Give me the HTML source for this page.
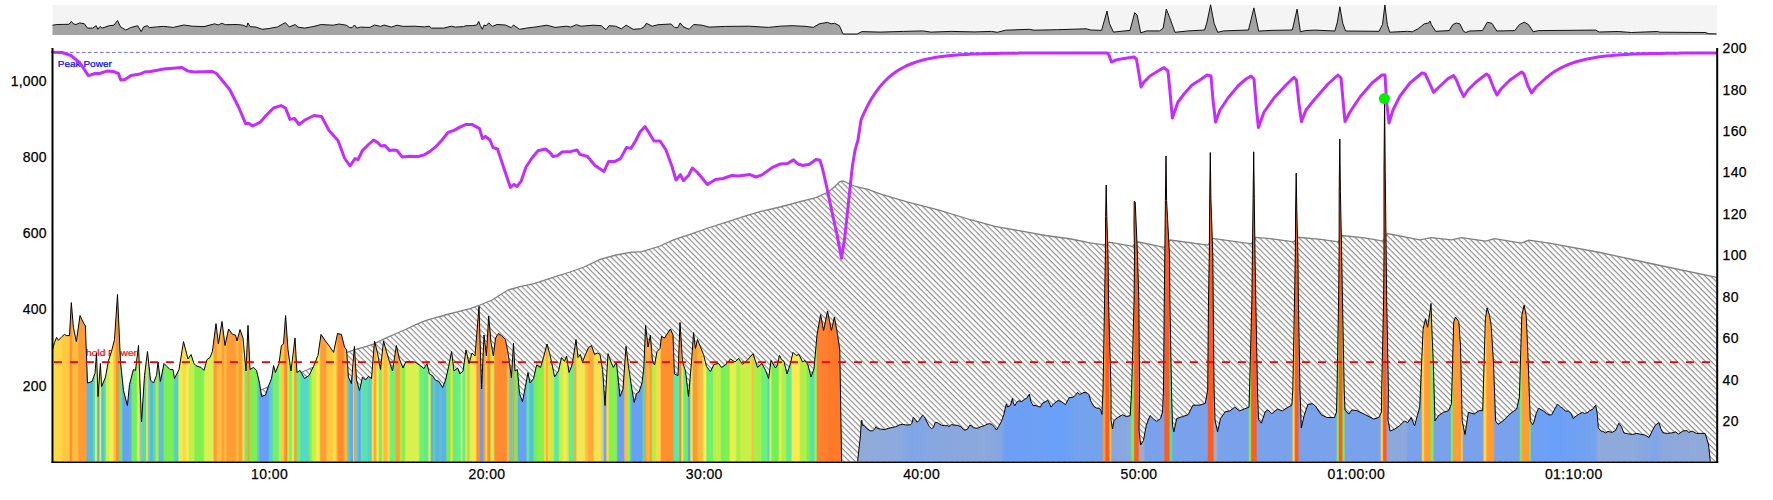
<!DOCTYPE html>
<html><head><meta charset="utf-8"><style>
html,body{margin:0;padding:0;background:#fff;}
body{width:1773px;height:500px;overflow:hidden;}
svg{display:block;}
text{font-family:"Liberation Sans", Arial, sans-serif;}
</style></head><body>
<svg width="1773" height="500" viewBox="0 0 1773 500">
<defs>
<pattern id="hat" patternUnits="userSpaceOnUse" width="4" height="4" patternTransform="rotate(-45)">
<rect x="0" y="0" width="4" height="4" fill="#fff"/>
<line x1="2.33" y1="-1" x2="2.33" y2="5" stroke="#7a7a7a" stroke-width="1"/>
</pattern>
<linearGradient id="pg" gradientUnits="userSpaceOnUse" x1="52.0" y1="0" x2="1717.0" y2="0"><stop offset="0.00000" stop-color="#fff060"/><stop offset="0.00084" stop-color="#fff060"/><stop offset="0.00168" stop-color="#ffd848"/><stop offset="0.00553" stop-color="#ffd848"/><stop offset="0.00649" stop-color="#ffc840"/><stop offset="0.01027" stop-color="#ffc840"/><stop offset="0.01109" stop-color="#ff8a30"/><stop offset="0.01155" stop-color="#ff8a30"/><stop offset="0.01237" stop-color="#ffbc40"/><stop offset="0.01526" stop-color="#ffbc40"/><stop offset="0.01622" stop-color="#ff9c36"/><stop offset="0.02030" stop-color="#ff9c36"/><stop offset="0.02126" stop-color="#58b8e0"/><stop offset="0.02414" stop-color="#58b8e0"/><stop offset="0.02497" stop-color="#52dca8"/><stop offset="0.02542" stop-color="#52dca8"/><stop offset="0.02616" stop-color="#e0f050"/><stop offset="0.02669" stop-color="#e0f050"/><stop offset="0.02750" stop-color="#60a8f0"/><stop offset="0.02805" stop-color="#60a8f0"/><stop offset="0.02881" stop-color="#e0f050"/><stop offset="0.02927" stop-color="#e0f050"/><stop offset="0.02995" stop-color="#58b8e0"/><stop offset="0.03041" stop-color="#58b8e0"/><stop offset="0.03122" stop-color="#52dca8"/><stop offset="0.03184" stop-color="#52dca8"/><stop offset="0.03279" stop-color="#d0f050"/><stop offset="0.03411" stop-color="#d0f050"/><stop offset="0.03508" stop-color="#f4ee50"/><stop offset="0.03646" stop-color="#f4ee50"/><stop offset="0.03739" stop-color="#ffbc40"/><stop offset="0.03799" stop-color="#ffbc40"/><stop offset="0.03892" stop-color="#ff8a30"/><stop offset="0.03970" stop-color="#ff8a30"/><stop offset="0.04066" stop-color="#60e890"/><stop offset="0.04180" stop-color="#60e890"/><stop offset="0.04276" stop-color="#6a9ef6"/><stop offset="0.04565" stop-color="#6a9ef6"/><stop offset="0.04659" stop-color="#60b0e0"/><stop offset="0.04722" stop-color="#60b0e0"/><stop offset="0.04817" stop-color="#70f060"/><stop offset="0.05063" stop-color="#70f060"/><stop offset="0.05158" stop-color="#e0f050"/><stop offset="0.05220" stop-color="#e0f050"/><stop offset="0.05296" stop-color="#b0b8c0"/><stop offset="0.05335" stop-color="#b0b8c0"/><stop offset="0.05411" stop-color="#52dca8"/><stop offset="0.05604" stop-color="#52dca8"/><stop offset="0.05686" stop-color="#ffd944"/><stop offset="0.05732" stop-color="#ffd944"/><stop offset="0.05811" stop-color="#55d0c8"/><stop offset="0.05871" stop-color="#55d0c8"/><stop offset="0.05957" stop-color="#60b0e8"/><stop offset="0.06013" stop-color="#60b0e8"/><stop offset="0.06101" stop-color="#52dca8"/><stop offset="0.06163" stop-color="#52dca8"/><stop offset="0.06258" stop-color="#b0e850"/><stop offset="0.06354" stop-color="#b0e850"/><stop offset="0.06450" stop-color="#5cc0d8"/><stop offset="0.06661" stop-color="#5cc0d8"/><stop offset="0.06757" stop-color="#7af055"/><stop offset="0.07273" stop-color="#7af055"/><stop offset="0.07369" stop-color="#55d0c8"/><stop offset="0.07544" stop-color="#55d0c8"/><stop offset="0.07640" stop-color="#e8f050"/><stop offset="0.07778" stop-color="#e8f050"/><stop offset="0.07874" stop-color="#ffd944"/><stop offset="0.08006" stop-color="#ffd944"/><stop offset="0.08101" stop-color="#f0f050"/><stop offset="0.08163" stop-color="#f0f050"/><stop offset="0.08258" stop-color="#c6ee4a"/><stop offset="0.08505" stop-color="#c6ee4a"/><stop offset="0.08601" stop-color="#80f050"/><stop offset="0.09081" stop-color="#80f050"/><stop offset="0.09177" stop-color="#d8f050"/><stop offset="0.09658" stop-color="#d8f050"/><stop offset="0.09754" stop-color="#ff9c36"/><stop offset="0.09850" stop-color="#ff9c36"/><stop offset="0.09946" stop-color="#ffbc40"/><stop offset="0.10162" stop-color="#ffbc40"/><stop offset="0.10244" stop-color="#ff9c36"/><stop offset="0.10290" stop-color="#ff9c36"/><stop offset="0.10369" stop-color="#ffbc40"/><stop offset="0.10429" stop-color="#ffbc40"/><stop offset="0.10523" stop-color="#ff9c36"/><stop offset="0.11003" stop-color="#ff9c36"/><stop offset="0.11098" stop-color="#ffbc40"/><stop offset="0.11160" stop-color="#ffbc40"/><stop offset="0.11255" stop-color="#ff9c36"/><stop offset="0.11375" stop-color="#ff9c36"/><stop offset="0.11463" stop-color="#ffd944"/><stop offset="0.11516" stop-color="#ffd944"/><stop offset="0.11604" stop-color="#80e870"/><stop offset="0.11682" stop-color="#80e870"/><stop offset="0.11769" stop-color="#ff9c36"/><stop offset="0.11822" stop-color="#ff9c36"/><stop offset="0.11910" stop-color="#80f050"/><stop offset="0.12276" stop-color="#80f050"/><stop offset="0.12359" stop-color="#5cc8d0"/><stop offset="0.12404" stop-color="#5cc8d0"/><stop offset="0.12486" stop-color="#6a9ef6"/><stop offset="0.12985" stop-color="#6a9ef6"/><stop offset="0.13081" stop-color="#55d0d0"/><stop offset="0.13219" stop-color="#55d0d0"/><stop offset="0.13307" stop-color="#80f050"/><stop offset="0.13360" stop-color="#80f050"/><stop offset="0.13447" stop-color="#68f080"/><stop offset="0.13586" stop-color="#68f080"/><stop offset="0.13668" stop-color="#c6ee4a"/><stop offset="0.13714" stop-color="#c6ee4a"/><stop offset="0.13796" stop-color="#ffc840"/><stop offset="0.13892" stop-color="#ffc840"/><stop offset="0.13988" stop-color="#ff8a30"/><stop offset="0.14084" stop-color="#ff8a30"/><stop offset="0.14166" stop-color="#c6ee4a"/><stop offset="0.14212" stop-color="#c6ee4a"/><stop offset="0.14293" stop-color="#70f070"/><stop offset="0.14356" stop-color="#70f070"/><stop offset="0.14442" stop-color="#e0f050"/><stop offset="0.14495" stop-color="#e0f050"/><stop offset="0.14581" stop-color="#ff9c36"/><stop offset="0.14644" stop-color="#ff9c36"/><stop offset="0.14739" stop-color="#68f080"/><stop offset="0.14889" stop-color="#68f080"/><stop offset="0.14985" stop-color="#55d8c8"/><stop offset="0.15393" stop-color="#55d8c8"/><stop offset="0.15486" stop-color="#80f050"/><stop offset="0.15547" stop-color="#80f050"/><stop offset="0.15640" stop-color="#c8f048"/><stop offset="0.15808" stop-color="#c8f048"/><stop offset="0.15904" stop-color="#f0f050"/><stop offset="0.16048" stop-color="#f0f050"/><stop offset="0.16144" stop-color="#ff9c36"/><stop offset="0.16426" stop-color="#ff9c36"/><stop offset="0.16523" stop-color="#ffc840"/><stop offset="0.16817" stop-color="#ffc840"/><stop offset="0.16913" stop-color="#ffe048"/><stop offset="0.17009" stop-color="#ffe048"/><stop offset="0.17080" stop-color="#ffbc40"/><stop offset="0.17112" stop-color="#ffbc40"/><stop offset="0.17183" stop-color="#ff8a30"/><stop offset="0.17489" stop-color="#ff8a30"/><stop offset="0.17586" stop-color="#ffb840"/><stop offset="0.17682" stop-color="#ffb840"/><stop offset="0.17771" stop-color="#55d0c0"/><stop offset="0.17826" stop-color="#55d0c0"/><stop offset="0.17902" stop-color="#60b0e0"/><stop offset="0.17948" stop-color="#60b0e0"/><stop offset="0.18011" stop-color="#60a8f0"/><stop offset="0.18049" stop-color="#60a8f0"/><stop offset="0.18094" stop-color="#c6ee4a"/><stop offset="0.18116" stop-color="#c6ee4a"/><stop offset="0.18150" stop-color="#ff9c36"/><stop offset="0.18174" stop-color="#ff9c36"/><stop offset="0.18240" stop-color="#55d8c0"/><stop offset="0.18318" stop-color="#55d8c0"/><stop offset="0.18414" stop-color="#66a4f8"/><stop offset="0.18511" stop-color="#66a4f8"/><stop offset="0.18593" stop-color="#60e8a0"/><stop offset="0.18638" stop-color="#60e8a0"/><stop offset="0.18721" stop-color="#58e0b0"/><stop offset="0.18931" stop-color="#58e0b0"/><stop offset="0.19027" stop-color="#55d0c8"/><stop offset="0.19165" stop-color="#55d0c8"/><stop offset="0.19247" stop-color="#ffd944"/><stop offset="0.19293" stop-color="#ffd944"/><stop offset="0.19372" stop-color="#ffa838"/><stop offset="0.19432" stop-color="#ffa838"/><stop offset="0.19524" stop-color="#f8e850"/><stop offset="0.19587" stop-color="#f8e850"/><stop offset="0.19682" stop-color="#70f070"/><stop offset="0.19778" stop-color="#70f070"/><stop offset="0.19849" stop-color="#ffd944"/><stop offset="0.19880" stop-color="#ffd944"/><stop offset="0.19952" stop-color="#ffb840"/><stop offset="0.20084" stop-color="#ffb840"/><stop offset="0.20179" stop-color="#ffe048"/><stop offset="0.20241" stop-color="#ffe048"/><stop offset="0.20336" stop-color="#70f070"/><stop offset="0.20583" stop-color="#70f070"/><stop offset="0.20679" stop-color="#ffa035"/><stop offset="0.20853" stop-color="#ffa035"/><stop offset="0.20948" stop-color="#a8f048"/><stop offset="0.21010" stop-color="#a8f048"/><stop offset="0.21102" stop-color="#80f050"/><stop offset="0.21162" stop-color="#80f050"/><stop offset="0.21255" stop-color="#d8f050"/><stop offset="0.22006" stop-color="#d8f050"/><stop offset="0.22102" stop-color="#70f070"/><stop offset="0.22294" stop-color="#70f070"/><stop offset="0.22390" stop-color="#60ea90"/><stop offset="0.22547" stop-color="#60ea90"/><stop offset="0.22641" stop-color="#e0f050"/><stop offset="0.22704" stop-color="#e0f050"/><stop offset="0.22796" stop-color="#60b0e0"/><stop offset="0.22856" stop-color="#60b0e0"/><stop offset="0.22932" stop-color="#52dca8"/><stop offset="0.22972" stop-color="#52dca8"/><stop offset="0.23051" stop-color="#60b0e0"/><stop offset="0.23183" stop-color="#60b0e0"/><stop offset="0.23279" stop-color="#58c0d8"/><stop offset="0.23375" stop-color="#58c0d8"/><stop offset="0.23471" stop-color="#60b0e8"/><stop offset="0.23628" stop-color="#60b0e8"/><stop offset="0.23724" stop-color="#70f058"/><stop offset="0.23892" stop-color="#70f058"/><stop offset="0.23976" stop-color="#ffd944"/><stop offset="0.24024" stop-color="#ffd944"/><stop offset="0.24108" stop-color="#68f068"/><stop offset="0.24222" stop-color="#68f068"/><stop offset="0.24318" stop-color="#60f090"/><stop offset="0.24511" stop-color="#60f090"/><stop offset="0.24582" stop-color="#e0f050"/><stop offset="0.24613" stop-color="#e0f050"/><stop offset="0.24685" stop-color="#60f090"/><stop offset="0.24781" stop-color="#60f090"/><stop offset="0.24858" stop-color="#ffd944"/><stop offset="0.24896" stop-color="#ffd944"/><stop offset="0.24973" stop-color="#90f050"/><stop offset="0.25051" stop-color="#90f050"/><stop offset="0.25147" stop-color="#f8e850"/><stop offset="0.25435" stop-color="#f8e850"/><stop offset="0.25532" stop-color="#ff9035"/><stop offset="0.25664" stop-color="#ff9035"/><stop offset="0.25760" stop-color="#6a9cf0"/><stop offset="0.25856" stop-color="#6a9cf0"/><stop offset="0.25938" stop-color="#ff9c36"/><stop offset="0.25984" stop-color="#ff9c36"/><stop offset="0.26052" stop-color="#ffd944"/><stop offset="0.26098" stop-color="#ffd944"/><stop offset="0.26180" stop-color="#ff8a30"/><stop offset="0.26276" stop-color="#ff8a30"/><stop offset="0.26372" stop-color="#d8e850"/><stop offset="0.26511" stop-color="#d8e850"/><stop offset="0.26607" stop-color="#ff8a30"/><stop offset="0.27279" stop-color="#ff8a30"/><stop offset="0.27362" stop-color="#ffbc40"/><stop offset="0.27407" stop-color="#ffbc40"/><stop offset="0.27489" stop-color="#60d0c0"/><stop offset="0.27622" stop-color="#60d0c0"/><stop offset="0.27698" stop-color="#ff9c36"/><stop offset="0.27737" stop-color="#ff9c36"/><stop offset="0.27814" stop-color="#70f060"/><stop offset="0.27934" stop-color="#70f060"/><stop offset="0.28030" stop-color="#68a0f8"/><stop offset="0.28450" stop-color="#68a0f8"/><stop offset="0.28545" stop-color="#60e8a0"/><stop offset="0.28608" stop-color="#60e8a0"/><stop offset="0.28703" stop-color="#58c0d8"/><stop offset="0.28877" stop-color="#58c0d8"/><stop offset="0.28973" stop-color="#70f060"/><stop offset="0.29087" stop-color="#70f060"/><stop offset="0.29183" stop-color="#88f048"/><stop offset="0.29514" stop-color="#88f048"/><stop offset="0.29590" stop-color="#ffd944"/><stop offset="0.29629" stop-color="#ffd944"/><stop offset="0.29697" stop-color="#ffb038"/><stop offset="0.29750" stop-color="#ffb038"/><stop offset="0.29824" stop-color="#ffd944"/><stop offset="0.29870" stop-color="#ffd944"/><stop offset="0.29952" stop-color="#c0f048"/><stop offset="0.30108" stop-color="#c0f048"/><stop offset="0.30204" stop-color="#58e8a8"/><stop offset="0.30396" stop-color="#58e8a8"/><stop offset="0.30492" stop-color="#c8f048"/><stop offset="0.30643" stop-color="#c8f048"/><stop offset="0.30739" stop-color="#e8f050"/><stop offset="0.30859" stop-color="#e8f050"/><stop offset="0.30941" stop-color="#ffd944"/><stop offset="0.30987" stop-color="#ffd944"/><stop offset="0.31069" stop-color="#60ec90"/><stop offset="0.31321" stop-color="#60ec90"/><stop offset="0.31404" stop-color="#ffa838"/><stop offset="0.31449" stop-color="#ffa838"/><stop offset="0.31532" stop-color="#f0e850"/><stop offset="0.31970" stop-color="#f0e850"/><stop offset="0.32066" stop-color="#ffbc40"/><stop offset="0.32162" stop-color="#ffbc40"/><stop offset="0.32258" stop-color="#ffa838"/><stop offset="0.32474" stop-color="#ffa838"/><stop offset="0.32571" stop-color="#f8e050"/><stop offset="0.32931" stop-color="#f8e050"/><stop offset="0.33026" stop-color="#c0d890"/><stop offset="0.33088" stop-color="#c0d890"/><stop offset="0.33182" stop-color="#80a0e8"/><stop offset="0.33244" stop-color="#80a0e8"/><stop offset="0.33336" stop-color="#ffd944"/><stop offset="0.33396" stop-color="#ffd944"/><stop offset="0.33489" stop-color="#88f050"/><stop offset="0.33892" stop-color="#88f050"/><stop offset="0.33988" stop-color="#68a0f8"/><stop offset="0.34318" stop-color="#68a0f8"/><stop offset="0.34414" stop-color="#ffbc40"/><stop offset="0.34511" stop-color="#ffbc40"/><stop offset="0.34605" stop-color="#a0f050"/><stop offset="0.34668" stop-color="#a0f050"/><stop offset="0.34733" stop-color="#52dca8"/><stop offset="0.34757" stop-color="#52dca8"/><stop offset="0.34823" stop-color="#68a0f8"/><stop offset="0.35417" stop-color="#68a0f8"/><stop offset="0.35505" stop-color="#52dca8"/><stop offset="0.35558" stop-color="#52dca8"/><stop offset="0.35632" stop-color="#ff9c36"/><stop offset="0.35677" stop-color="#ff9c36"/><stop offset="0.35760" stop-color="#ffb840"/><stop offset="0.35856" stop-color="#ffb840"/><stop offset="0.35940" stop-color="#ff9c36"/><stop offset="0.35988" stop-color="#ff9c36"/><stop offset="0.36072" stop-color="#b0f048"/><stop offset="0.36240" stop-color="#b0f048"/><stop offset="0.36336" stop-color="#ffd848"/><stop offset="0.36511" stop-color="#ffd848"/><stop offset="0.36607" stop-color="#ff9030"/><stop offset="0.37279" stop-color="#ff9030"/><stop offset="0.37375" stop-color="#58e8a8"/><stop offset="0.37628" stop-color="#58e8a8"/><stop offset="0.37710" stop-color="#ff8030"/><stop offset="0.37756" stop-color="#ff8030"/><stop offset="0.37824" stop-color="#e0f050"/><stop offset="0.37870" stop-color="#e0f050"/><stop offset="0.37951" stop-color="#60ec90"/><stop offset="0.38013" stop-color="#60ec90"/><stop offset="0.38100" stop-color="#70f050"/><stop offset="0.38153" stop-color="#70f050"/><stop offset="0.38234" stop-color="#68a0f0"/><stop offset="0.38289" stop-color="#68a0f0"/><stop offset="0.38375" stop-color="#e0f050"/><stop offset="0.38435" stop-color="#e0f050"/><stop offset="0.38529" stop-color="#ff9830"/><stop offset="0.38703" stop-color="#ff9830"/><stop offset="0.38799" stop-color="#ffb840"/><stop offset="0.39051" stop-color="#ffb840"/><stop offset="0.39147" stop-color="#fff050"/><stop offset="0.39243" stop-color="#fff050"/><stop offset="0.39339" stop-color="#70f070"/><stop offset="0.39664" stop-color="#70f070"/><stop offset="0.39760" stop-color="#c0f048"/><stop offset="0.40126" stop-color="#c0f048"/><stop offset="0.40222" stop-color="#70f060"/><stop offset="0.40318" stop-color="#70f060"/><stop offset="0.40414" stop-color="#80f050"/><stop offset="0.40655" stop-color="#80f050"/><stop offset="0.40751" stop-color="#e8f050"/><stop offset="0.41039" stop-color="#e8f050"/><stop offset="0.41135" stop-color="#a8f048"/><stop offset="0.41285" stop-color="#a8f048"/><stop offset="0.41381" stop-color="#c8f048"/><stop offset="0.41976" stop-color="#c8f048"/><stop offset="0.42060" stop-color="#ffbc40"/><stop offset="0.42108" stop-color="#ffbc40"/><stop offset="0.42192" stop-color="#a8f048"/><stop offset="0.42547" stop-color="#a8f048"/><stop offset="0.42643" stop-color="#68f080"/><stop offset="0.42949" stop-color="#68f080"/><stop offset="0.43022" stop-color="#55d0c8"/><stop offset="0.43056" stop-color="#55d0c8"/><stop offset="0.43117" stop-color="#e0f050"/><stop offset="0.43165" stop-color="#e0f050"/><stop offset="0.43249" stop-color="#70f058"/><stop offset="0.43604" stop-color="#70f058"/><stop offset="0.43700" stop-color="#e0f050"/><stop offset="0.43766" stop-color="#e0f050"/><stop offset="0.43862" stop-color="#b0f048"/><stop offset="0.44048" stop-color="#b0f048"/><stop offset="0.44144" stop-color="#60ec90"/><stop offset="0.44372" stop-color="#60ec90"/><stop offset="0.44468" stop-color="#fce850"/><stop offset="0.44859" stop-color="#fce850"/><stop offset="0.44955" stop-color="#b0f048"/><stop offset="0.45267" stop-color="#b0f048"/><stop offset="0.45363" stop-color="#80f050"/><stop offset="0.45471" stop-color="#80f050"/><stop offset="0.45568" stop-color="#58e0b0"/><stop offset="0.45754" stop-color="#58e0b0"/><stop offset="0.45840" stop-color="#a0f050"/><stop offset="0.45890" stop-color="#a0f050"/><stop offset="0.45976" stop-color="#ff8030"/><stop offset="0.46559" stop-color="#ff8030"/><stop offset="0.46655" stop-color="#ff7a28"/><stop offset="0.47375" stop-color="#ff7a28"/><stop offset="0.47471" stop-color="#8ca8dc"/><stop offset="0.48348" stop-color="#94aad6"/><stop offset="0.49730" stop-color="#8eaadc"/><stop offset="0.50931" stop-color="#8ca8de"/><stop offset="0.51652" stop-color="#7ea4e9"/><stop offset="0.52432" stop-color="#86a6e2"/><stop offset="0.54535" stop-color="#8aa8de"/><stop offset="0.56036" stop-color="#8ca8dc"/><stop offset="0.56937" stop-color="#86a6e2"/><stop offset="0.57297" stop-color="#6c9ff6"/><stop offset="0.59339" stop-color="#6ea0f4"/><stop offset="0.60541" stop-color="#68a0fa"/><stop offset="0.61742" stop-color="#74a2ee"/><stop offset="0.63063" stop-color="#76a2ec"/><stop offset="0.63175" stop-color="#ff9c36"/><stop offset="0.63221" stop-color="#ff9c36"/><stop offset="0.63303" stop-color="#ff5a20"/><stop offset="0.63459" stop-color="#ff5a20"/><stop offset="0.63553" stop-color="#ffd944"/><stop offset="0.63658" stop-color="#86a6e2"/><stop offset="0.64745" stop-color="#8aa8e0"/><stop offset="0.64888" stop-color="#7cef58"/><stop offset="0.64944" stop-color="#7cef58"/><stop offset="0.65033" stop-color="#ff5a20"/><stop offset="0.65225" stop-color="#ff5a20"/><stop offset="0.65321" stop-color="#a0abc8"/><stop offset="0.65568" stop-color="#a0abc8"/><stop offset="0.65664" stop-color="#7aa2ec"/><stop offset="0.66757" stop-color="#7aa2ec"/><stop offset="0.66853" stop-color="#ff5a20"/><stop offset="0.67063" stop-color="#ff5a20"/><stop offset="0.67159" stop-color="#52dca8"/><stop offset="0.67237" stop-color="#52dca8"/><stop offset="0.67333" stop-color="#7aa2ec"/><stop offset="0.69369" stop-color="#7aa2ec"/><stop offset="0.69465" stop-color="#ff5a20"/><stop offset="0.69712" stop-color="#ff5a20"/><stop offset="0.69808" stop-color="#a0abc8"/><stop offset="0.69946" stop-color="#a0abc8"/><stop offset="0.70042" stop-color="#7aa2ec"/><stop offset="0.71844" stop-color="#7aa2ec"/><stop offset="0.71926" stop-color="#7cef58"/><stop offset="0.71972" stop-color="#7cef58"/><stop offset="0.72054" stop-color="#ff5a20"/><stop offset="0.72306" stop-color="#ff5a20"/><stop offset="0.72402" stop-color="#7aa2ec"/><stop offset="0.74468" stop-color="#7aa2ec"/><stop offset="0.74551" stop-color="#ffd944"/><stop offset="0.74596" stop-color="#ffd944"/><stop offset="0.74679" stop-color="#ff5a20"/><stop offset="0.74817" stop-color="#ff5a20"/><stop offset="0.74913" stop-color="#7aa2ec"/><stop offset="0.77117" stop-color="#7aa2ec"/><stop offset="0.77199" stop-color="#7cef58"/><stop offset="0.77245" stop-color="#7cef58"/><stop offset="0.77327" stop-color="#ff5a20"/><stop offset="0.77465" stop-color="#ff5a20"/><stop offset="0.77548" stop-color="#7cef58"/><stop offset="0.77593" stop-color="#7cef58"/><stop offset="0.77676" stop-color="#7aa2ec"/><stop offset="0.79772" stop-color="#7aa2ec"/><stop offset="0.79852" stop-color="#ffd944"/><stop offset="0.79895" stop-color="#ffd944"/><stop offset="0.79976" stop-color="#ff5a20"/><stop offset="0.80108" stop-color="#ff5a20"/><stop offset="0.80204" stop-color="#8ca8dc"/><stop offset="0.81333" stop-color="#8ca8dc"/><stop offset="0.81429" stop-color="#7aa2ec"/><stop offset="0.82234" stop-color="#7aa2ec"/><stop offset="0.82318" stop-color="#ffd944"/><stop offset="0.82366" stop-color="#ffd944"/><stop offset="0.82450" stop-color="#ff9c36"/><stop offset="0.82757" stop-color="#ff9c36"/><stop offset="0.82853" stop-color="#7cef58"/><stop offset="0.82931" stop-color="#7cef58"/><stop offset="0.83027" stop-color="#7aa2ec"/><stop offset="0.83976" stop-color="#7aa2ec"/><stop offset="0.84056" stop-color="#7cef58"/><stop offset="0.84100" stop-color="#7cef58"/><stop offset="0.84180" stop-color="#ff9c36"/><stop offset="0.84601" stop-color="#ff9c36"/><stop offset="0.84667" stop-color="#ffd944"/><stop offset="0.84691" stop-color="#ffd944"/><stop offset="0.84757" stop-color="#7aa2ec"/><stop offset="0.85928" stop-color="#7aa2ec"/><stop offset="0.86024" stop-color="#ffd944"/><stop offset="0.86096" stop-color="#ffd944"/><stop offset="0.86192" stop-color="#ff9c36"/><stop offset="0.86559" stop-color="#ff9c36"/><stop offset="0.86655" stop-color="#7aa2ec"/><stop offset="0.88120" stop-color="#7aa2ec"/><stop offset="0.88201" stop-color="#7cef58"/><stop offset="0.88244" stop-color="#7cef58"/><stop offset="0.88324" stop-color="#ff9c36"/><stop offset="0.88691" stop-color="#ff9c36"/><stop offset="0.88773" stop-color="#7cef58"/><stop offset="0.88853" stop-color="#72a0f2"/><stop offset="0.90270" stop-color="#6aa0fa"/><stop offset="0.91471" stop-color="#70a0f2"/><stop offset="0.92673" stop-color="#74a2ee"/><stop offset="0.92913" stop-color="#8eaadb"/><stop offset="0.94775" stop-color="#8caadc"/><stop offset="0.95976" stop-color="#86a6e2"/><stop offset="0.96336" stop-color="#7ea4e8"/><stop offset="0.96697" stop-color="#8ca8dc"/><stop offset="0.98979" stop-color="#90aad8"/><stop offset="1.00000" stop-color="#90aad8"/></linearGradient>
</defs>
<rect width="1773" height="500" fill="#fff"/>
<!-- overview -->
<rect x="52.5" y="5" width="1664.5" height="30" fill="#f4f4f4"/>
<polygon points="52.5,25.2 57.1,24.5 69,24.3 71.3,21.4 73.7,24 76,24.5 79.6,22.9 84.4,23.8 87.4,28.1 92.7,28.1 96.2,25.7 97.9,29.3 100.2,26.4 102.1,28.1 109.2,25.7 114,25.2 117.5,20.5 120.6,26.9 125.8,30 130.6,27.6 137.7,25.7 141.2,31.6 143.6,26.9 147.2,25.7 149.5,27.6 156.6,26.9 163.7,26.4 173.2,27.4 183.9,25 192.2,26.2 204,26.6 214.7,23.8 218.2,25 221.8,23.3 225.4,24.7 237.2,24.5 243.1,25.2 246.7,26.9 247.9,22.9 250.2,26.6 256.2,27.1 262.1,29.3 269.2,28.5 277.5,26.9 285.3,22.6 289.3,26.9 295.3,24.5 297.6,27.1 304.7,28.1 313,26.6 321.3,24.5 333.2,25.2 339.1,24 346.2,25.2 349.8,27.6 352.1,27.6 354.5,25 356.9,28.1 360.4,27.1 369.9,27.4 374.6,25 380.6,26.4 384.1,25 391.2,27.1 397.2,25.2 403.1,26.4 414.9,26.2 424.4,26.9 429.1,26.2 431.5,28.1 443.4,28.1 451.7,26.2 455.2,27.1 463.5,26.6 465.9,25.7 472.1,25.7 476.8,25 478.7,21.4 480.4,25.7 482.3,29.3 484,25 486.3,25.7 488.7,22.9 492.3,26.4 497,24.5 505.3,25 511.2,27.6 513.6,25 519.5,29.3 526.6,28.1 536.1,26.9 546.8,25.2 555,27.4 566.9,26.2 570.5,27.1 576.4,24.7 581.1,26.2 593,25.2 601.3,25.7 606,29.7 609.1,25.7 615.5,26.2 621.4,28.8 626.1,25.2 633.2,29.3 640.4,28.8 643.9,27.1 646.3,23.3 652.2,26.2 658.1,24.7 671.2,24 674.7,27.6 677.8,27.6 680.2,22.9 683,26.6 689,29.3 693.7,24.5 702,25.2 709.1,27.1 725.7,26.4 749.4,26.2 768.3,27.4 780.2,26.2 792,25.7 806.2,26.4 813.3,27.4 819.3,23.8 827.6,22.4 831.1,23.8 834.7,23.3 839.4,25.7 843,34 857.2,34 861.9,31.6 880,32.1 903.7,31.4 922.7,30.9 930.9,32.1 951.1,31.4 974.8,31.9 991.4,31.4 997.3,32.3 1005.6,30.2 1029.3,29.3 1034,30.2 1057.7,29.7 1086.2,28.8 1090.9,30 1101.6,30.4 1107,11 1109.4,23.3 1113.4,32.1 1130,30.4 1134.7,12.7 1137.1,15 1140.7,32.8 1146.8,30.9 1159.6,30.9 1163.2,28.1 1166.3,9.1 1169.6,17.4 1175,32.3 1188.1,30.9 1204.6,30 1207,22.1 1210.6,4.8 1214.1,23.3 1217.7,32.3 1223.6,30.9 1248.5,30 1253.9,7.9 1258.7,31.1 1271,30.4 1292.3,30 1297.1,9.1 1300.4,31.8 1305.1,30.6 1314.7,30.1 1334.9,31 1337.3,22.2 1339.9,6.8 1342.8,23.4 1345.6,31 1379,31.3 1382.5,24.6 1384.9,4.9 1387.3,24.6 1389.7,32.2 1407.5,31.3 1412.3,31.8 1418.2,28.7 1424.2,23.9 1428.5,23 1430.1,21 1431.3,24.6 1435.6,31.3 1449.2,30.6 1452.8,24.6 1456.3,23 1459.9,23.9 1463.5,31.3 1465.9,32.5 1469.4,31 1482.5,30.6 1487.3,22.2 1492,23.4 1496.8,31 1514.7,30.6 1519.4,24.6 1524.2,22.2 1528.5,24.6 1533.2,31.8 1538.5,30.6 1595.6,30.1 1599.2,32 1618.2,31.5 1631.3,32.5 1657.5,31.5 1659.9,32.2 1705.1,32.5 1708.7,33.7 1716.5,33.9 1716.5,35 52.5,35" fill="#a3a3a3" stroke="none"/>
<path d="M52.5,25.2 L57.1,24.5 L69,24.3 L71.3,21.4 L73.7,24 L76,24.5 L79.6,22.9 L84.4,23.8 L87.4,28.1 L92.7,28.1 L96.2,25.7 L97.9,29.3 L100.2,26.4 L102.1,28.1 L109.2,25.7 L114,25.2 L117.5,20.5 L120.6,26.9 L125.8,30 L130.6,27.6 L137.7,25.7 L141.2,31.6 L143.6,26.9 L147.2,25.7 L149.5,27.6 L156.6,26.9 L163.7,26.4 L173.2,27.4 L183.9,25 L192.2,26.2 L204,26.6 L214.7,23.8 L218.2,25 L221.8,23.3 L225.4,24.7 L237.2,24.5 L243.1,25.2 L246.7,26.9 L247.9,22.9 L250.2,26.6 L256.2,27.1 L262.1,29.3 L269.2,28.5 L277.5,26.9 L285.3,22.6 L289.3,26.9 L295.3,24.5 L297.6,27.1 L304.7,28.1 L313,26.6 L321.3,24.5 L333.2,25.2 L339.1,24 L346.2,25.2 L349.8,27.6 L352.1,27.6 L354.5,25 L356.9,28.1 L360.4,27.1 L369.9,27.4 L374.6,25 L380.6,26.4 L384.1,25 L391.2,27.1 L397.2,25.2 L403.1,26.4 L414.9,26.2 L424.4,26.9 L429.1,26.2 L431.5,28.1 L443.4,28.1 L451.7,26.2 L455.2,27.1 L463.5,26.6 L465.9,25.7 L472.1,25.7 L476.8,25 L478.7,21.4 L480.4,25.7 L482.3,29.3 L484,25 L486.3,25.7 L488.7,22.9 L492.3,26.4 L497,24.5 L505.3,25 L511.2,27.6 L513.6,25 L519.5,29.3 L526.6,28.1 L536.1,26.9 L546.8,25.2 L555,27.4 L566.9,26.2 L570.5,27.1 L576.4,24.7 L581.1,26.2 L593,25.2 L601.3,25.7 L606,29.7 L609.1,25.7 L615.5,26.2 L621.4,28.8 L626.1,25.2 L633.2,29.3 L640.4,28.8 L643.9,27.1 L646.3,23.3 L652.2,26.2 L658.1,24.7 L671.2,24 L674.7,27.6 L677.8,27.6 L680.2,22.9 L683,26.6 L689,29.3 L693.7,24.5 L702,25.2 L709.1,27.1 L725.7,26.4 L749.4,26.2 L768.3,27.4 L780.2,26.2 L792,25.7 L806.2,26.4 L813.3,27.4 L819.3,23.8 L827.6,22.4 L831.1,23.8 L834.7,23.3 L839.4,25.7 L843,34 L857.2,34 L861.9,31.6 L880,32.1 L903.7,31.4 L922.7,30.9 L930.9,32.1 L951.1,31.4 L974.8,31.9 L991.4,31.4 L997.3,32.3 L1005.6,30.2 L1029.3,29.3 L1034,30.2 L1057.7,29.7 L1086.2,28.8 L1090.9,30 L1101.6,30.4 L1107,11 L1109.4,23.3 L1113.4,32.1 L1130,30.4 L1134.7,12.7 L1137.1,15 L1140.7,32.8 L1146.8,30.9 L1159.6,30.9 L1163.2,28.1 L1166.3,9.1 L1169.6,17.4 L1175,32.3 L1188.1,30.9 L1204.6,30 L1207,22.1 L1210.6,4.8 L1214.1,23.3 L1217.7,32.3 L1223.6,30.9 L1248.5,30 L1253.9,7.9 L1258.7,31.1 L1271,30.4 L1292.3,30 L1297.1,9.1 L1300.4,31.8 L1305.1,30.6 L1314.7,30.1 L1334.9,31 L1337.3,22.2 L1339.9,6.8 L1342.8,23.4 L1345.6,31 L1379,31.3 L1382.5,24.6 L1384.9,4.9 L1387.3,24.6 L1389.7,32.2 L1407.5,31.3 L1412.3,31.8 L1418.2,28.7 L1424.2,23.9 L1428.5,23 L1430.1,21 L1431.3,24.6 L1435.6,31.3 L1449.2,30.6 L1452.8,24.6 L1456.3,23 L1459.9,23.9 L1463.5,31.3 L1465.9,32.5 L1469.4,31 L1482.5,30.6 L1487.3,22.2 L1492,23.4 L1496.8,31 L1514.7,30.6 L1519.4,24.6 L1524.2,22.2 L1528.5,24.6 L1533.2,31.8 L1538.5,30.6 L1595.6,30.1 L1599.2,32 L1618.2,31.5 L1631.3,32.5 L1657.5,31.5 L1659.9,32.2 L1705.1,32.5 L1708.7,33.7 L1716.5,33.9" fill="none" stroke="#111" stroke-width="1"/>
<!-- hatched area -->
<polygon points="52,461.5 90,452 150,428 200,409 261,390 300,373 347.6,352.2 356,349.4 366.4,346.4 374.2,343.8 384.6,338.6 395,334 405.4,329.5 415.8,324.6 426.2,320.4 436.6,317.4 447,314.5 457.4,311.9 470,308.7 480,305 492,300 500,295 508,290 520,286.6 534,283.6 544,280.4 556,276.4 570,272 584,267 600,259.3 616,255 630,252.4 642,251.6 660,246 674,239.6 690,234.4 708,228 728,221.6 744,216.4 760,211.6 780,207 800,201.6 816,197.6 826,193 832,189 840,181.6 843,181 855.4,186.5 868,189.4 880.8,194.1 906.1,201.7 939.1,210.1 969.6,219.5 995,226.3 1020.4,230.9 1045.7,235.5 1071.1,239 1090,242.8 1104.2,244.8 1109.3,242.1 1132.6,246.3 1137.7,241.8 1164.1,247.3 1170.2,240 1207.8,245.1 1212.8,238.4 1251.4,243.8 1255.5,237.4 1270,238.6 1294.1,241.9 1297.9,237.3 1320.8,239.3 1338.5,241.9 1342.3,235.5 1366.4,238.1 1383,241.1 1387.3,233.5 1419.7,239.8 1431.2,237.6 1451.5,239.8 1461.6,237.6 1485.7,241.1 1494.6,238.6 1521.3,243.1 1528.9,240.1 1549.2,243.1 1600,252.5 1650.7,263.5 1716.7,277.4 1716.7,461.5 52,461.5" fill="url(#hat)"/>
<path d="M52,461.5 L90,452 L150,428 L200,409 L261,390 L300,373 L347.6,352.2 L356,349.4 L366.4,346.4 L374.2,343.8 L384.6,338.6 L395,334 L405.4,329.5 L415.8,324.6 L426.2,320.4 L436.6,317.4 L447,314.5 L457.4,311.9 L470,308.7 L480,305 L492,300 L500,295 L508,290 L520,286.6 L534,283.6 L544,280.4 L556,276.4 L570,272 L584,267 L600,259.3 L616,255 L630,252.4 L642,251.6 L660,246 L674,239.6 L690,234.4 L708,228 L728,221.6 L744,216.4 L760,211.6 L780,207 L800,201.6 L816,197.6 L826,193 L832,189 L840,181.6 L843,181 L855.4,186.5 L868,189.4 L880.8,194.1 L906.1,201.7 L939.1,210.1 L969.6,219.5 L995,226.3 L1020.4,230.9 L1045.7,235.5 L1071.1,239 L1090,242.8 L1104.2,244.8 L1109.3,242.1 L1132.6,246.3 L1137.7,241.8 L1164.1,247.3 L1170.2,240 L1207.8,245.1 L1212.8,238.4 L1251.4,243.8 L1255.5,237.4 L1270,238.6 L1294.1,241.9 L1297.9,237.3 L1320.8,239.3 L1338.5,241.9 L1342.3,235.5 L1366.4,238.1 L1383,241.1 L1387.3,233.5 L1419.7,239.8 L1431.2,237.6 L1451.5,239.8 L1461.6,237.6 L1485.7,241.1 L1494.6,238.6 L1521.3,243.1 L1528.9,240.1 L1549.2,243.1 L1600,252.5 L1650.7,263.5 L1716.7,277.4" fill="none" stroke="#808080" stroke-width="1.3"/>
<!-- threshold text -->
<text x="60" y="356" font-size="9.4" fill="#ff0000" stroke="#ff0000" stroke-width="0.2" textLength="77" lengthAdjust="spacingAndGlyphs">Threshold Power</text>
<!-- power area -->
<polygon points="52.4,461.5 52.4,350 54.5,342.5 56.6,337.4 58.4,340.4 62,336.5 64.4,334.4 66.5,335.6 69.5,335.6 71.3,302.6 73.4,327.5 76.4,341.6 80,315.5 83.6,323 85.4,326 87.5,383 92,381.5 95,373.4 96.5,353 98,396.5 100.4,363.5 101.6,386.6 105.5,377 108.5,360.5 111.5,351.5 114.5,339.5 117.5,294.5 120.5,362 123.5,390.5 127.4,405.5 129.5,384.5 133.4,369.5 135.5,370.4 138.5,345.5 141.5,422 144.5,375.5 147.5,351.5 150.5,380 153.5,383 156.5,375.5 158,362 160.4,381.5 164,363.5 167,366.5 170,369.5 173,369.5 174.5,378.5 179,369.5 183.5,341.6 188,359 191,354.5 194,363.5 196,365.6 198,366.5 201,367.4 204,370.4 207,359.6 210,357.5 212.4,351.5 216,323.6 218.4,344 222,321.5 225,345.5 228.6,329 232.5,334.4 235.5,335 237,341 240,329.6 243,338 246,371 248,325.4 250,369.5 253.5,367.4 256.5,370.4 259.5,383 261.6,396.5 265.5,395 268.5,386 271.5,378.5 273.6,365.6 275.4,372.5 279,363.5 281.4,345.5 283.5,344 285.6,315.5 288,350 291,371 295,338 297,372.5 300,370.4 304.5,378.5 309,375.5 313.5,366.5 318,355.4 321,334.4 325.5,341 330,347 333.6,352.4 337.5,333.5 341.4,334.4 344.5,347 346.6,350 348.4,377 351.4,383.6 354.4,346.4 356.5,380 359.5,390.5 362.5,377 365.5,380 368.5,376.4 371.5,378.5 374.5,341 377.5,353 380.5,369.5 383.5,341 386.5,351.5 389.5,362 392.5,371 396.4,345.5 399.4,359 403,368 406,361.4 410.5,362 415,362 419.5,365 424,368.6 427,363.5 429.4,374 432.4,375.5 435.4,380 439,381.5 442.6,387.5 445.6,380 448.6,366.5 451.6,351.5 454,371 457.6,368 460,374 463,371 466,350 469,363.5 472,353 475,356 479,306.5 481.6,389 484,335 486.4,356 488.7,316 491,342.5 493.4,356 495.5,338 498.5,333.5 501.5,335.6 505.4,339.5 507.5,350 509.6,363.5 511.4,377.6 513.5,343.4 515,371 517.4,369.5 519.5,393.5 522.5,401.6 525.5,386 528,372.5 530,383 533.6,378.5 536.6,365 540.5,367.4 543.5,357.5 547,344 549.5,353 551.6,362 554.6,377 558.5,371 561.5,357.5 564.5,361.4 566.6,356 569,372.5 572,365 574,353 576,339.5 578,357.5 580.4,354.5 582.5,362 585.5,354.5 588.5,347.6 591.5,345.5 594.5,354.5 597.5,353 600,354.5 602.6,369.5 605,405.5 608,353.6 611,362 613.4,367.4 616.4,362 620,396.5 623,389 626,346.4 628.4,365.6 631.4,386 632.4,392 634.2,402.5 636.6,393.5 639,392 642,383 643.8,368 645.6,325.4 648,347 650.4,335 652.5,362 654.6,365 657,351.5 660,348.5 661.5,336.5 664.5,338 668.4,332 670.5,329 673,335 674.4,374 678,375.5 680,322.4 682.5,362 685.5,371 688.5,396.5 691.5,362 693.6,332.6 695.4,348.5 697.5,339.5 700.5,347 703.5,354.5 706.5,366.5 710.4,371.6 714,364.4 718.5,363.5 721.5,367.4 725.4,365 730.5,359 735,362 738.6,358.4 742.5,364.4 747,360.5 753,353.6 757.5,367.4 762,363.5 765.6,370.4 768.6,378.5 771,360.5 775.5,368 777.4,365 779.5,355.4 781.6,359.6 784,361.4 787,374 790,365 793,352.4 796,355.4 799,354.5 802.6,362 805,360.5 808,365 811,377 814,368.6 817,335 820.6,314.6 823.6,330.5 827.5,311 831.4,330.5 834.4,317 837.4,333.5 839.8,350 841.6,461.5 841.6,461.5" fill="url(#pg)"/>
<polygon points="857.6,461.5 860.5,435 861.3,421.9 861.8,420.2 862.4,425.3 864.3,425.7 866.8,428.7 870.2,430.8 872.8,430.8 874.5,429.1 876,426.6 877.2,428.3 880.4,429.1 884.6,429.5 888.8,428.3 892.2,427.4 895.6,426.8 899,425.1 902.4,424.3 905.8,424.9 910.4,424.9 911.9,423.2 913.4,417.3 915.1,419.4 917.2,422.3 919.3,420.2 921,417.3 922.7,415.2 924.4,416.8 926.9,421.9 929.4,426.6 931.6,428.7 933.3,427.4 935.4,422.3 937.1,422.6 938.8,423.6 941.3,425.1 943,425.7 944.7,425.3 945.9,426 947.2,425.3 948.9,426.6 951.4,424.5 954,425.1 957.4,425.3 960.8,426.6 963.3,429.5 965,430.2 967.5,429.1 969.6,425.3 971.3,425.7 973.4,427.4 976,428.3 978.5,427.8 981.1,426.6 984.4,425.7 987,424.3 989.5,423.6 992.1,424.5 994.6,427.4 996.5,430 998.8,426.2 1001.4,421.5 1003.9,414.3 1006.3,403.9 1007.7,407.1 1010.5,405.3 1012.5,398.3 1013.3,402.9 1014.8,405.7 1016.8,402.2 1018.9,400.8 1021.7,401.5 1024.5,399.4 1026.6,398.3 1029.4,394.1 1030.8,401.1 1032.9,405.3 1036.4,405.7 1040.3,407.1 1042.7,402.9 1044.8,402.2 1047.6,400.1 1049,402.5 1051.1,407.1 1053.2,404.3 1058.1,400.4 1061.6,401.8 1065.5,404.6 1069.3,397.6 1072.8,397.3 1075.3,395.5 1077.4,392.4 1079.8,394.5 1084,392.4 1087.5,393.1 1088.9,394.5 1090.7,400.8 1093.8,406.4 1096.6,408.1 1099.4,408.1 1100.8,410.2 1101.9,414.4 1103,390 1104.6,300 1105.4,255 1105.6,216.5 1106.2,185 1106.8,216.5 1108,255 1108.5,300 1111,390 1111,420 1112.5,429 1114,420.4 1117.8,417.5 1122.6,414.7 1126.4,416.6 1130.2,415.6 1131.6,390 1134.1,300 1134.5,255 1134,225.3 1134.2,201 1135.2,202 1137.5,255 1138.8,300 1139.6,390 1139,430 1140.6,445 1143.5,440.3 1146.3,425.1 1150,415.6 1154,419.4 1156.8,421.3 1160.6,418.5 1162.5,412 1163.5,390 1164.3,300 1164.8,255 1165.4,200.55 1166,156 1166.6,200.55 1169.5,255 1169.9,300 1171.5,390 1172.5,425 1173.9,431.8 1176.7,418.5 1182.5,416.6 1188.2,414.7 1192.9,405.2 1199.6,405.2 1205.3,403.3 1207.7,390 1208.5,300 1209.3,255 1209.7,198.625 1210.3,152.5 1210.9,198.625 1212.8,255 1213.2,300 1214.1,390 1215,420 1217.6,431.8 1220.5,418.5 1225.2,411.8 1230,410.9 1234.7,407.1 1239.5,410.9 1244.2,409 1249,407.1 1249.5,390 1251.9,300 1252.4,255 1253.1,198.24 1253.7,151.8 1254.3,198.24 1255,255 1255.8,300 1257.5,390 1258.5,419.4 1261.4,423.2 1265.2,411.8 1268,409.9 1271.8,413.7 1277.5,409 1282.3,410.9 1285,409 1291.8,405.2 1292.8,390 1294.5,300 1295.3,255 1295.6,210.01 1296.2,173.2 1296.8,210.01 1297.9,255 1298.4,300 1300,390 1301.3,428 1304.1,415.6 1308,404.2 1312.7,403.8 1315.5,406.1 1321.2,414.7 1326.9,417.5 1334.5,417.5 1336.5,412 1337,390 1338.6,300 1339.1,255 1339.2,191.2 1339.8,139 1340.4,191.2 1341.7,255 1342.5,300 1344.2,390 1345,410 1348.8,414.1 1351.7,410 1355,410.3 1356.8,410.6 1365.3,414.7 1373.8,419.1 1378.9,417.4 1381.5,412 1381.7,390 1383.6,300 1384,255 1384,168.98 1384.6,98.6 1385.2,168.98 1386.2,255 1386.7,300 1388.4,390 1388,420 1390.1,431 1394.2,429.4 1399.3,426 1404.4,420.9 1407.8,422.6 1411.2,417.4 1414.6,426 1417.3,415.7 1419.7,407.2 1423.1,329 1425.5,318.8 1427.6,327.3 1430,312 1431,303.5 1431.6,322.2 1433.3,363 1435,420.9 1438.4,415.7 1443.5,412.3 1448.6,410.6 1451.4,403.8 1453.7,322.2 1455.4,317.1 1458.8,321.5 1460.5,346 1462.2,420.9 1465,434.5 1468.4,412.3 1474.1,414 1479.3,410.6 1482.7,410.6 1485.4,318.8 1487.1,307.9 1489.5,315.4 1491.2,325.6 1493.5,363 1495.6,420.9 1498,424.3 1503,420.9 1509.9,414 1516.7,409 1519.4,397 1521.8,315.4 1524.1,305.2 1526.2,315.4 1527.6,346 1530.3,420.9 1532.6,424.7 1534.1,421.6 1536.2,413.4 1538.7,408.3 1541.3,409.8 1543.3,410.8 1546.4,413.4 1549,414.9 1551.6,414.9 1554.1,410.3 1557.5,404.2 1560.3,406.7 1562.9,408.3 1565.4,411.1 1568.5,411.1 1571.1,413.4 1573.1,418.5 1576.2,416 1579.3,413.9 1582.4,412.4 1584.4,413.4 1587,412.9 1589.5,410.8 1592.6,409.3 1595.7,405.2 1597.2,413.4 1598.3,427.8 1600.8,430.9 1602.9,431.4 1605.5,432.9 1608,431.4 1612.1,432.4 1615.7,430.3 1618.8,423.2 1621.4,426.7 1623.9,432.9 1628.6,433.9 1632.7,434.4 1636.8,433.4 1640.9,434.4 1645,435 1649.1,437.5 1652.2,430.9 1655.3,425.2 1658.9,422.6 1660.9,428.8 1663,432.9 1667.6,433.4 1671.7,432.9 1675.8,431.9 1678.4,434.1 1683,430.9 1687.1,430.6 1688.6,432.4 1692.2,431.1 1696.3,433.4 1700.4,433.4 1705,433.4 1706.6,438 1708.6,445 1710.3,461.5" fill="url(#pg)"/>
<path d="M52.4,350 L54.5,342.5 L56.6,337.4 L58.4,340.4 L62,336.5 L64.4,334.4 L66.5,335.6 L69.5,335.6 L71.3,302.6 L73.4,327.5 L76.4,341.6 L80,315.5 L83.6,323 L85.4,326 L87.5,383 L92,381.5 L95,373.4 L96.5,353 L98,396.5 L100.4,363.5 L101.6,386.6 L105.5,377 L108.5,360.5 L111.5,351.5 L114.5,339.5 L117.5,294.5 L120.5,362 L123.5,390.5 L127.4,405.5 L129.5,384.5 L133.4,369.5 L135.5,370.4 L138.5,345.5 L141.5,422 L144.5,375.5 L147.5,351.5 L150.5,380 L153.5,383 L156.5,375.5 L158,362 L160.4,381.5 L164,363.5 L167,366.5 L170,369.5 L173,369.5 L174.5,378.5 L179,369.5 L183.5,341.6 L188,359 L191,354.5 L194,363.5 L196,365.6 L198,366.5 L201,367.4 L204,370.4 L207,359.6 L210,357.5 L212.4,351.5 L216,323.6 L218.4,344 L222,321.5 L225,345.5 L228.6,329 L232.5,334.4 L235.5,335 L237,341 L240,329.6 L243,338 L246,371 L248,325.4 L250,369.5 L253.5,367.4 L256.5,370.4 L259.5,383 L261.6,396.5 L265.5,395 L268.5,386 L271.5,378.5 L273.6,365.6 L275.4,372.5 L279,363.5 L281.4,345.5 L283.5,344 L285.6,315.5 L288,350 L291,371 L295,338 L297,372.5 L300,370.4 L304.5,378.5 L309,375.5 L313.5,366.5 L318,355.4 L321,334.4 L325.5,341 L330,347 L333.6,352.4 L337.5,333.5 L341.4,334.4 L344.5,347 L346.6,350 L348.4,377 L351.4,383.6 L354.4,346.4 L356.5,380 L359.5,390.5 L362.5,377 L365.5,380 L368.5,376.4 L371.5,378.5 L374.5,341 L377.5,353 L380.5,369.5 L383.5,341 L386.5,351.5 L389.5,362 L392.5,371 L396.4,345.5 L399.4,359 L403,368 L406,361.4 L410.5,362 L415,362 L419.5,365 L424,368.6 L427,363.5 L429.4,374 L432.4,375.5 L435.4,380 L439,381.5 L442.6,387.5 L445.6,380 L448.6,366.5 L451.6,351.5 L454,371 L457.6,368 L460,374 L463,371 L466,350 L469,363.5 L472,353 L475,356 L479,306.5 L481.6,389 L484,335 L486.4,356 L488.7,316 L491,342.5 L493.4,356 L495.5,338 L498.5,333.5 L501.5,335.6 L505.4,339.5 L507.5,350 L509.6,363.5 L511.4,377.6 L513.5,343.4 L515,371 L517.4,369.5 L519.5,393.5 L522.5,401.6 L525.5,386 L528,372.5 L530,383 L533.6,378.5 L536.6,365 L540.5,367.4 L543.5,357.5 L547,344 L549.5,353 L551.6,362 L554.6,377 L558.5,371 L561.5,357.5 L564.5,361.4 L566.6,356 L569,372.5 L572,365 L574,353 L576,339.5 L578,357.5 L580.4,354.5 L582.5,362 L585.5,354.5 L588.5,347.6 L591.5,345.5 L594.5,354.5 L597.5,353 L600,354.5 L602.6,369.5 L605,405.5 L608,353.6 L611,362 L613.4,367.4 L616.4,362 L620,396.5 L623,389 L626,346.4 L628.4,365.6 L631.4,386 L632.4,392 L634.2,402.5 L636.6,393.5 L639,392 L642,383 L643.8,368 L645.6,325.4 L648,347 L650.4,335 L652.5,362 L654.6,365 L657,351.5 L660,348.5 L661.5,336.5 L664.5,338 L668.4,332 L670.5,329 L673,335 L674.4,374 L678,375.5 L680,322.4 L682.5,362 L685.5,371 L688.5,396.5 L691.5,362 L693.6,332.6 L695.4,348.5 L697.5,339.5 L700.5,347 L703.5,354.5 L706.5,366.5 L710.4,371.6 L714,364.4 L718.5,363.5 L721.5,367.4 L725.4,365 L730.5,359 L735,362 L738.6,358.4 L742.5,364.4 L747,360.5 L753,353.6 L757.5,367.4 L762,363.5 L765.6,370.4 L768.6,378.5 L771,360.5 L775.5,368 L777.4,365 L779.5,355.4 L781.6,359.6 L784,361.4 L787,374 L790,365 L793,352.4 L796,355.4 L799,354.5 L802.6,362 L805,360.5 L808,365 L811,377 L814,368.6 L817,335 L820.6,314.6 L823.6,330.5 L827.5,311 L831.4,330.5 L834.4,317 L837.4,333.5 L839.8,350 L841.6,461.5" fill="none" stroke="#000" stroke-width="1" stroke-linejoin="round"/>
<path d="M857.6,461.5 L860.5,435 L861.3,421.9 L861.8,420.2 L862.4,425.3 L864.3,425.7 L866.8,428.7 L870.2,430.8 L872.8,430.8 L874.5,429.1 L876,426.6 L877.2,428.3 L880.4,429.1 L884.6,429.5 L888.8,428.3 L892.2,427.4 L895.6,426.8 L899,425.1 L902.4,424.3 L905.8,424.9 L910.4,424.9 L911.9,423.2 L913.4,417.3 L915.1,419.4 L917.2,422.3 L919.3,420.2 L921,417.3 L922.7,415.2 L924.4,416.8 L926.9,421.9 L929.4,426.6 L931.6,428.7 L933.3,427.4 L935.4,422.3 L937.1,422.6 L938.8,423.6 L941.3,425.1 L943,425.7 L944.7,425.3 L945.9,426 L947.2,425.3 L948.9,426.6 L951.4,424.5 L954,425.1 L957.4,425.3 L960.8,426.6 L963.3,429.5 L965,430.2 L967.5,429.1 L969.6,425.3 L971.3,425.7 L973.4,427.4 L976,428.3 L978.5,427.8 L981.1,426.6 L984.4,425.7 L987,424.3 L989.5,423.6 L992.1,424.5 L994.6,427.4 L996.5,430 L998.8,426.2 L1001.4,421.5 L1003.9,414.3 L1006.3,403.9 L1007.7,407.1 L1010.5,405.3 L1012.5,398.3 L1013.3,402.9 L1014.8,405.7 L1016.8,402.2 L1018.9,400.8 L1021.7,401.5 L1024.5,399.4 L1026.6,398.3 L1029.4,394.1 L1030.8,401.1 L1032.9,405.3 L1036.4,405.7 L1040.3,407.1 L1042.7,402.9 L1044.8,402.2 L1047.6,400.1 L1049,402.5 L1051.1,407.1 L1053.2,404.3 L1058.1,400.4 L1061.6,401.8 L1065.5,404.6 L1069.3,397.6 L1072.8,397.3 L1075.3,395.5 L1077.4,392.4 L1079.8,394.5 L1084,392.4 L1087.5,393.1 L1088.9,394.5 L1090.7,400.8 L1093.8,406.4 L1096.6,408.1 L1099.4,408.1 L1100.8,410.2 L1101.9,414.4 L1103,390 L1104.6,300 L1105.4,255 L1105.6,216.5 L1106.2,185 L1106.8,216.5 L1108,255 L1108.5,300 L1111,390 L1111,420 L1112.5,429 L1114,420.4 L1117.8,417.5 L1122.6,414.7 L1126.4,416.6 L1130.2,415.6 L1131.6,390 L1134.1,300 L1134.5,255 L1134,225.3 L1134.2,201 L1135.2,202 L1137.5,255 L1138.8,300 L1139.6,390 L1139,430 L1140.6,445 L1143.5,440.3 L1146.3,425.1 L1150,415.6 L1154,419.4 L1156.8,421.3 L1160.6,418.5 L1162.5,412 L1163.5,390 L1164.3,300 L1164.8,255 L1165.4,200.55 L1166,156 L1166.6,200.55 L1169.5,255 L1169.9,300 L1171.5,390 L1172.5,425 L1173.9,431.8 L1176.7,418.5 L1182.5,416.6 L1188.2,414.7 L1192.9,405.2 L1199.6,405.2 L1205.3,403.3 L1207.7,390 L1208.5,300 L1209.3,255 L1209.7,198.625 L1210.3,152.5 L1210.9,198.625 L1212.8,255 L1213.2,300 L1214.1,390 L1215,420 L1217.6,431.8 L1220.5,418.5 L1225.2,411.8 L1230,410.9 L1234.7,407.1 L1239.5,410.9 L1244.2,409 L1249,407.1 L1249.5,390 L1251.9,300 L1252.4,255 L1253.1,198.24 L1253.7,151.8 L1254.3,198.24 L1255,255 L1255.8,300 L1257.5,390 L1258.5,419.4 L1261.4,423.2 L1265.2,411.8 L1268,409.9 L1271.8,413.7 L1277.5,409 L1282.3,410.9 L1285,409 L1291.8,405.2 L1292.8,390 L1294.5,300 L1295.3,255 L1295.6,210.01 L1296.2,173.2 L1296.8,210.01 L1297.9,255 L1298.4,300 L1300,390 L1301.3,428 L1304.1,415.6 L1308,404.2 L1312.7,403.8 L1315.5,406.1 L1321.2,414.7 L1326.9,417.5 L1334.5,417.5 L1336.5,412 L1337,390 L1338.6,300 L1339.1,255 L1339.2,191.2 L1339.8,139 L1340.4,191.2 L1341.7,255 L1342.5,300 L1344.2,390 L1345,410 L1348.8,414.1 L1351.7,410 L1355,410.3 L1356.8,410.6 L1365.3,414.7 L1373.8,419.1 L1378.9,417.4 L1381.5,412 L1381.7,390 L1383.6,300 L1384,255 L1384,168.98 L1384.6,98.6 L1385.2,168.98 L1386.2,255 L1386.7,300 L1388.4,390 L1388,420 L1390.1,431 L1394.2,429.4 L1399.3,426 L1404.4,420.9 L1407.8,422.6 L1411.2,417.4 L1414.6,426 L1417.3,415.7 L1419.7,407.2 L1423.1,329 L1425.5,318.8 L1427.6,327.3 L1430,312 L1431,303.5 L1431.6,322.2 L1433.3,363 L1435,420.9 L1438.4,415.7 L1443.5,412.3 L1448.6,410.6 L1451.4,403.8 L1453.7,322.2 L1455.4,317.1 L1458.8,321.5 L1460.5,346 L1462.2,420.9 L1465,434.5 L1468.4,412.3 L1474.1,414 L1479.3,410.6 L1482.7,410.6 L1485.4,318.8 L1487.1,307.9 L1489.5,315.4 L1491.2,325.6 L1493.5,363 L1495.6,420.9 L1498,424.3 L1503,420.9 L1509.9,414 L1516.7,409 L1519.4,397 L1521.8,315.4 L1524.1,305.2 L1526.2,315.4 L1527.6,346 L1530.3,420.9 L1532.6,424.7 L1534.1,421.6 L1536.2,413.4 L1538.7,408.3 L1541.3,409.8 L1543.3,410.8 L1546.4,413.4 L1549,414.9 L1551.6,414.9 L1554.1,410.3 L1557.5,404.2 L1560.3,406.7 L1562.9,408.3 L1565.4,411.1 L1568.5,411.1 L1571.1,413.4 L1573.1,418.5 L1576.2,416 L1579.3,413.9 L1582.4,412.4 L1584.4,413.4 L1587,412.9 L1589.5,410.8 L1592.6,409.3 L1595.7,405.2 L1597.2,413.4 L1598.3,427.8 L1600.8,430.9 L1602.9,431.4 L1605.5,432.9 L1608,431.4 L1612.1,432.4 L1615.7,430.3 L1618.8,423.2 L1621.4,426.7 L1623.9,432.9 L1628.6,433.9 L1632.7,434.4 L1636.8,433.4 L1640.9,434.4 L1645,435 L1649.1,437.5 L1652.2,430.9 L1655.3,425.2 L1658.9,422.6 L1660.9,428.8 L1663,432.9 L1667.6,433.4 L1671.7,432.9 L1675.8,431.9 L1678.4,434.1 L1683,430.9 L1687.1,430.6 L1688.6,432.4 L1692.2,431.1 L1696.3,433.4 L1700.4,433.4 L1705,433.4 L1706.6,438 L1708.6,445 L1710.3,461.5" fill="none" stroke="#000" stroke-width="1" stroke-linejoin="round"/>
<!-- threshold line -->
<line x1="53" y1="362.2" x2="1716" y2="362.2" stroke="#f00000" stroke-width="1.7" stroke-dasharray="8 8" stroke-dashoffset="-0.9"/>
<!-- peak power line -->
<line x1="52" y1="52.4" x2="1716" y2="52.4" stroke="#6e6eff" stroke-width="1" stroke-dasharray="3.6 2.4"/>
<text x="57.8" y="66.9" font-size="9.2" fill="#0000ff" stroke="#0000ff" stroke-width="0.2" textLength="54" lengthAdjust="spacingAndGlyphs">Peak Power</text>
<!-- W'bal -->
<path d="M52.5,52.2 L62,52.5 L71,55.5 L80,63 L88.4,75.6 L95,73.5 L99.5,73.5 L107,71.1 L113,71.4 L118.4,73.5 L120.8,80.1 L125,79.5 L131,75.6 L140,74.1 L144.5,72 L150.5,71.4 L164,69 L182,67.5 L188,71.1 L194,72 L212,71.4 L216.5,73.5 L224,82.5 L230,90 L239,108 L245.6,123.6 L249,123.6 L252.5,126 L260,122.4 L266,115.5 L273.5,108 L281,105.6 L285.5,108 L290,119.4 L294.5,118.5 L299,124.5 L305,120 L314,115.5 L321.5,116.4 L329,130.5 L338,140.4 L344.5,158 L350,166 L355,158.6 L358,159.5 L362.5,150.5 L368.5,144.5 L373.6,140 L377.5,142.4 L381,146 L385,145.4 L389.5,150.5 L394,150 L397,150.5 L402.4,157.1 L409,156.2 L418,156.5 L424,155 L430,151.4 L436,146.6 L442,140 L448,132.5 L454,130.4 L460,127.1 L466,124.4 L472,124.4 L479.5,128.6 L482.5,138.5 L485.5,136.4 L490,140 L493,147.5 L497.5,149 L503.5,167 L510.4,187.4 L514,184.4 L517,186.5 L521,181.4 L526,167 L532,158 L538,150.8 L545.5,149 L550,152.6 L553,156.5 L557.5,155.6 L562,152 L571,151.4 L577,150 L580,154.4 L587.5,156.5 L595,165.5 L604,171.5 L608.5,161.6 L614.5,161.6 L620.5,158.6 L626.5,147.5 L631,148.4 L635.5,141 L640,132 L645,126.6 L648.6,132 L654,141 L660,141 L666,150 L672,166.5 L676,180 L680.4,174.6 L683.4,180.6 L688.5,175.5 L692.4,168 L697.5,172.5 L707.4,184.5 L715.5,179.4 L723,178.5 L732,175.5 L738,176.1 L750,174.6 L756,177 L762,174.9 L772.5,167.4 L780,164.1 L787.5,163.5 L793.5,159.9 L798,164 L803,165.5 L809.5,164.2 L816,159.5 L820,160.3 L822.5,168.6 L826.4,185.5 L831.6,210.2 L836.8,233.6 L841.5,258.3 L844.6,238.8 L848.5,202.4 L852.4,166 L855,150.4 L858,140 L861,120 L864,113.1 L867,106.9 L870,101.3 L873,96.3 L876,91.9 L879,87.9 L882,84.3 L885,81 L888,78.1 L891,75.5 L894,73.2 L897,71.1 L900,69.2 L906,66 L912,63.5 L918,61.4 L924,59.7 L930,58.4 L936,57.3 L942,56.5 L948,55.8 L954,55.2 L960,54.8 L966,54.4 L972,54.1 L978,53.9 L984,53.7 L990,53.5 L996,53.4 L1002,53.3 L1008,53.2 L1014,53.2 L1020,53.1 L1026,53.1 L1032,53 L1038,53 L1107,52.9 L1109,55 L1111.4,62 L1116,60 L1124,58.4 L1134,57 L1136.4,59 L1139,74 L1141,87 L1144,82 L1150,76 L1158,71 L1164,67.6 L1168,71 L1170,92 L1172.4,118 L1178,102 L1184,94 L1192,85 L1200,80 L1207,75 L1211,76 L1213,100 L1215.6,122 L1220,110 L1228,98 L1238,86 L1246,79 L1251,76 L1254,79 L1256,104 L1258.4,127.4 L1264,112 L1274,98 L1286,85 L1294,77.4 L1296.4,80 L1299,104 L1301.4,121.6 L1306,110 L1314,100 L1328,84 L1338,75 L1341,78 L1343,100 L1345,121.6 L1350,112 L1360,97 L1372,83 L1382,75 L1385,75 L1386.4,100 L1389,123 L1393,110 L1400,96 L1410,83 L1422,73 L1425,73.6 L1429,82 L1433.6,92.4 L1439,87 L1448,78.6 L1453.6,75.6 L1456,79 L1460,89 L1463.6,96.4 L1468,90 L1476,82 L1486.4,74 L1489,76 L1494,89 L1497,95 L1501,89 L1510,80 L1521.6,72 L1524,74 L1528,86 L1531.6,93 L1536,87 L1546,78 L1550,74.8 L1554,71.9 L1558,69.5 L1562,67.4 L1566,65.5 L1570,63.9 L1574,62.5 L1578,61.2 L1582,60.2 L1586,59.2 L1590,58.4 L1594,57.7 L1598,57.1 L1602,56.5 L1606,56.1 L1610,55.7 L1614,55.3 L1618,55 L1622,54.7 L1626,54.5 L1630,54.3 L1634,54.1 L1638,54 L1642,53.8 L1646,53.7 L1650,53.6 L1654,53.5 L1658,53.4 L1662,53.4 L1666,53.3 L1670,53.2 L1674,53.2 L1678,53.2 L1682,53.1 L1686,53.1 L1690,53.1 L1694,53.1 L1698,53 L1716,52.9" fill="none" stroke="#c42cff" stroke-width="3" stroke-linejoin="round" stroke-linecap="round"/>
<circle cx="1384.4" cy="98.6" r="5.5" fill="#00f000"/>
<!-- axes -->
<line x1="52.5" y1="48" x2="52.5" y2="463" stroke="#000" stroke-width="2"/>
<line x1="1717.2" y1="48" x2="1717.2" y2="463" stroke="#000" stroke-width="2"/>
<line x1="51.5" y1="462.2" x2="1718.2" y2="462.2" stroke="#000" stroke-width="1.6"/>
<g font-size="14" fill="#000" stroke="#000" stroke-width="0.25" letter-spacing="0.15" text-anchor="end">
<text x="46.6" y="85.5">1,000</text>
<text x="46.6" y="161.8">800</text>
<text x="46.6" y="238.1">600</text>
<text x="46.6" y="314.4">400</text>
<text x="46.6" y="390.7">200</text>
</g>
<g font-size="14" fill="#000" stroke="#000" stroke-width="0.25" letter-spacing="0.4" text-anchor="start">
<text x="1722.5" y="53.0">200</text>
<text x="1722.5" y="94.5">180</text>
<text x="1722.5" y="135.9">160</text>
<text x="1722.5" y="177.4">140</text>
<text x="1722.5" y="218.8">120</text>
<text x="1722.5" y="260.3">100</text>
<text x="1722.5" y="301.8">80</text>
<text x="1722.5" y="343.2">60</text>
<text x="1722.5" y="384.7">40</text>
<text x="1722.5" y="426.1">20</text>
</g>
<g font-size="14" fill="#000" stroke="#000" stroke-width="0.25" letter-spacing="0.4" text-anchor="middle">
<text x="269.6" y="479">10:00</text>
<text x="487.0" y="479">20:00</text>
<text x="704.3" y="479">30:00</text>
<text x="921.7" y="479">40:00</text>
<text x="1139.0" y="479">50:00</text>
<text x="1356.4" y="479">01:00:00</text>
<text x="1573.8" y="479">01:10:00</text>
</g>
</svg>
</body></html>
